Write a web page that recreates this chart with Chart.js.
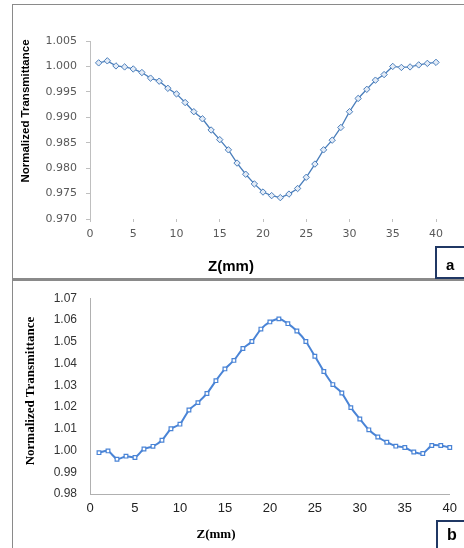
<!DOCTYPE html>
<html><head><meta charset="utf-8">
<script src="https://cdn.jsdelivr.net/npm/chart.js@4.4.0/dist/chart.umd.min.js"></script>
<style>
html,body{margin:0;padding:0;background:#fff;width:464px;height:548px;overflow:hidden;position:relative}
.abs{position:absolute;white-space:nowrap}
canvas{position:absolute;left:0}
.rot{transform:translate(-50%,-50%) rotate(-90deg);color:#000}
.ctr{transform:translate(-50%,-50%);color:#000}
</style></head><body>
<div class="abs" style="left:12px;top:4px;width:460px;height:1px;background:#8a8a8a"></div>
<div class="abs" style="left:12px;top:4px;width:1px;height:544px;background:#8a8a8a"></div>
<div class="abs" style="left:12px;top:278px;width:460px;height:3px;background:#8a8a8a"></div>
<canvas id="ca" width="464" height="278" style="top:0"></canvas>
<canvas id="cb" width="464" height="270" style="top:278px"></canvas>
<div class="abs rot" style="left:25px;top:111px;font:bold 11.5px 'Liberation Sans',Arial,sans-serif">Normalized Transmittance</div>
<div class="abs ctr" style="left:231px;top:265px;font:bold 15px 'Liberation Sans',Arial,sans-serif">Z(mm)</div>
<div class="abs rot" style="left:30px;top:391px;font:bold 13px 'Liberation Serif','Times New Roman',serif">Normalized Transmittance</div>
<div class="abs ctr" style="left:216px;top:534px;font:bold 13px 'Liberation Serif','Times New Roman',serif">Z(mm)</div>
<div class="abs" style="left:435px;top:246px;width:40px;height:29px;border:2px solid #203864;background:#fff"></div>
<div class="abs" style="left:446px;top:256px;font:bold 15px 'Liberation Sans',Arial,sans-serif">a</div>
<div class="abs" style="left:436px;top:520px;width:40px;height:40px;border:2px solid #203864;background:#fff"></div>
<div class="abs" style="left:447px;top:526px;font:bold 16px 'Liberation Sans',Arial,sans-serif">b</div>
<script>
const zValues = [1,2,3,4,5,6,7,8,9,10,11,12,13,14,15,16,17,18,19,20,21,22,23,24,25,26,27,28,29,30,31,32,33,34,35,36,37,38,39,40];
const transA = [1.0007,1.0011,1.0001,0.9999,0.9995,0.9988,0.9977,0.9971,0.9957,0.9946,0.9929,0.9911,0.9897,0.9875,0.9856,0.9836,0.9810,0.9788,0.9769,0.9753,0.9746,0.9742,0.9749,0.9760,0.9782,0.9808,0.9836,0.9855,0.9880,0.9911,0.9937,0.9955,0.9973,0.9984,1.0000,0.9998,0.9999,1.0003,1.0006,1.0008];
const transB = [0.9990,0.9998,0.9960,0.9974,0.9968,1.0007,1.0019,1.0047,1.0100,1.0121,1.0186,1.0220,1.0262,1.0321,1.0375,1.0414,1.0469,1.0501,1.0558,1.0591,1.0605,1.0583,1.0549,1.0501,1.0433,1.0363,1.0303,1.0264,1.0197,1.0145,1.0095,1.0062,1.0038,1.0020,1.0014,0.9993,0.9986,1.0023,1.0023,1.0014];
const ticksAX = [0,5,10,15,20,25,30,35,40];
const ticksAY = [0.970,0.975,0.980,0.985,0.990,0.995,1.000,1.005];
const ticksBX = [0,5,10,15,20,25,30,35,40];
const ticksBY = [0.98,0.99,1.00,1.01,1.02,1.03,1.04,1.05,1.06,1.07];

function pts(ys){ return zValues.map((z,i)=>({x:z,y:ys[i]})); }
function fixTicks(arr){ return function(scale){ scale.ticks = arr.map(v=>({value:v})); }; }

new Chart(document.getElementById('ca'), {
  type:'line',
  data:{datasets:[{data:pts(transA), borderColor:'#4a7ebb', borderWidth:1.3,
    pointStyle:'rectRot', pointRadius:3.2, pointBorderWidth:1,
    pointBackgroundColor:'#e4ecf7', pointBorderColor:'#4a7ebb', tension:0, clip:false}]},
  options:{responsive:false, animation:false, events:[],
    layout:{padding:{left:0,right:28,top:41,bottom:0}},
    plugins:{legend:{display:false}, tooltip:{enabled:false}},
    scales:{
      x:{type:'linear',min:0,max:40, afterBuildTicks:fixTicks(ticksAX), afterFit:s=>{s.height=59;},
        border:{display:false},
        grid:{drawOnChartArea:false, drawTicks:true, tickLength:3, color:'#bfbfbf'},
        ticks:{padding:6, color:'#595959', font:{family:'DejaVu Sans', size:11}, maxRotation:0, autoSkip:false}},
      y:{type:'linear',min:0.970,max:1.005, afterBuildTicks:fixTicks(ticksAY), afterFit:s=>{s.width=90;},
        border:{display:true,color:'#bfbfbf',width:1},
        grid:{drawOnChartArea:false, drawTicks:true, tickLength:4, color:'#bfbfbf'},
        ticks:{padding:9, color:'#595959', font:{family:'DejaVu Sans', size:11}, autoSkip:false,
          callback:v=>Number(v).toFixed(3)}}
    }}
});

new Chart(document.getElementById('cb'), {
  type:'line',
  data:{datasets:[{data:pts(transB), borderColor:'#4a84d6', borderWidth:2,
    pointStyle:'rect', pointRadius:2.6, pointBorderWidth:1.2,
    pointBackgroundColor:'#ffffff', pointBorderColor:'#4a84d6', tension:0.2, clip:false}]},
  options:{responsive:false, animation:false, events:[],
    layout:{padding:{left:0,right:12,top:16,bottom:0}},
    plugins:{legend:{display:false}, tooltip:{enabled:false}},
    scales:{
      x:{type:'linear',min:0,max:40, afterBuildTicks:fixTicks(ticksBX), afterFit:s=>{s.height=54;},
        border:{display:true,color:'#b0b0b0',width:1},
        grid:{display:false, drawOnChartArea:false, drawTicks:false},
        ticks:{padding:7, color:'#222', font:{family:'Liberation Sans', size:13}, maxRotation:0, autoSkip:false}},
      y:{type:'linear',min:0.98,max:1.07, afterBuildTicks:fixTicks(ticksBY), afterFit:s=>{s.width=90;},
        border:{display:true,color:'#b0b0b0',width:1},
        grid:{display:false, drawOnChartArea:false, drawTicks:false},
        ticks:{padding:13, color:'#333', font:{family:'Liberation Sans', size:12}, autoSkip:false,
          callback:v=>Number(v).toFixed(2)}}
    }}
});
</script>
</body></html>
